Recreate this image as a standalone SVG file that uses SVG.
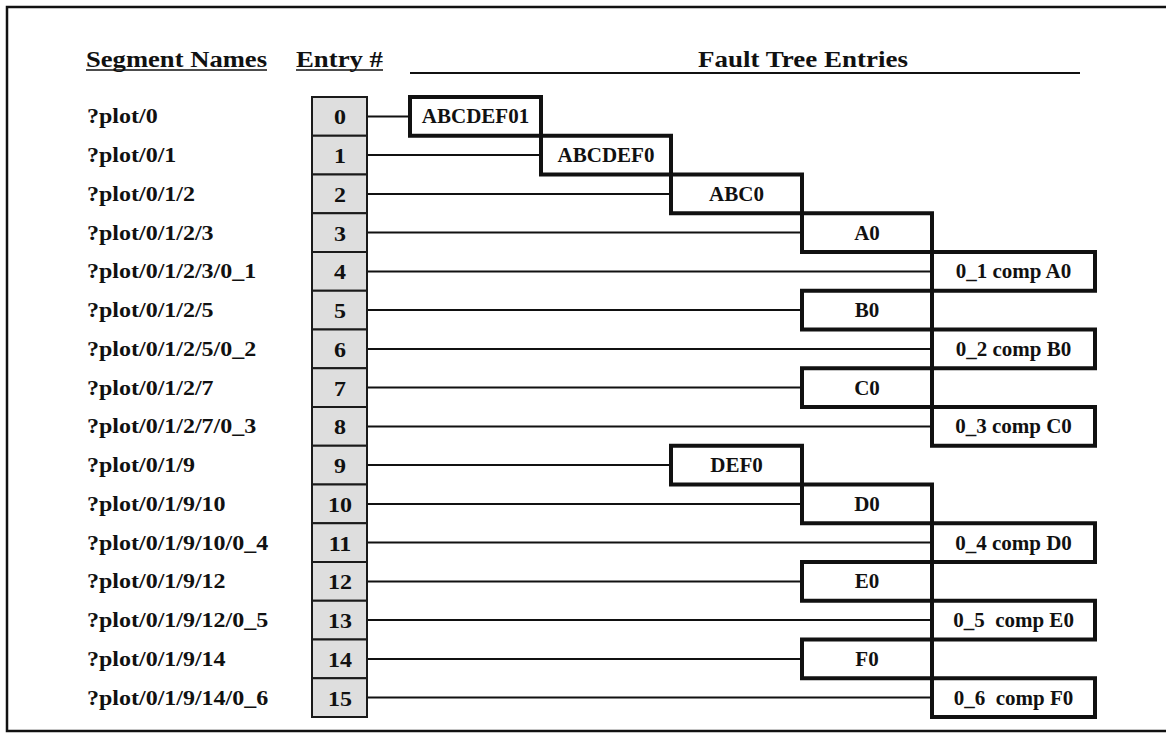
<svg xmlns="http://www.w3.org/2000/svg" width="1166" height="740" viewBox="0 0 1166 740">
  <style>
    .hdr { font-family: "Liberation Serif", "Times New Roman", serif; font-weight: bold; font-size: 23px; fill: #111; }
    .seg { font-family: "Liberation Serif", "Times New Roman", serif; font-weight: bold; font-size: 20px; fill: #111; }
    .num { font-family: "Liberation Serif", "Times New Roman", serif; font-weight: bold; font-size: 20px; fill: #111; text-anchor: middle; }
    .lbl { font-family: "Liberation Serif", "Times New Roman", serif; font-weight: bold; font-size: 21px; fill: #111; text-anchor: middle; white-space: pre; }
    .entry { fill: #dedede; stroke: #1a1a1a; stroke-width: 2; }
    .ft { fill: #ffffff; stroke: #111; stroke-width: 4; }
    .rule { stroke: #111; fill: none; }
    .conn line { stroke: #111; stroke-width: 2; }
  </style>

  <rect width="1166" height="740" fill="#ffffff"/>

  <!-- frame: left, top and bottom edges -->
  <path class="rule" stroke-width="2.5" d="M1166 7 H7 V731 H1166"/>

  <!-- column headings -->
  <g id="headings">
    <text class="hdr" x="86" y="67" textLength="181" lengthAdjust="spacingAndGlyphs">Segment Names</text>
    <line class="rule" stroke-width="1.6" x1="86" y1="70" x2="267" y2="70"/>
    <text class="hdr" x="296" y="67" textLength="87" lengthAdjust="spacingAndGlyphs">Entry #</text>
    <line class="rule" stroke-width="1.6" x1="296" y1="70" x2="383" y2="70"/>
    <text class="hdr" x="698" y="67" font-size="25" textLength="210" lengthAdjust="spacingAndGlyphs">Fault Tree Entries</text>
    <line class="rule" stroke-width="2" x1="410" y1="73" x2="1080" y2="73"/>
  </g>

  <!-- segment names, one per row -->
  <g id="segment-names" transform="translate(87 0) scale(1.2 1)">
    <text class="seg" x="0" y="123.4">?plot/0</text>
    <text class="seg" x="0" y="162.1">?plot/0/1</text>
    <text class="seg" x="0" y="200.9">?plot/0/1/2</text>
    <text class="seg" x="0" y="239.6">?plot/0/1/2/3</text>
    <text class="seg" x="0" y="278.4">?plot/0/1/2/3/0_1</text>
    <text class="seg" x="0" y="317.1">?plot/0/1/2/5</text>
    <text class="seg" x="0" y="355.9">?plot/0/1/2/5/0_2</text>
    <text class="seg" x="0" y="394.6">?plot/0/1/2/7</text>
    <text class="seg" x="0" y="433.4">?plot/0/1/2/7/0_3</text>
    <text class="seg" x="0" y="472.1">?plot/0/1/9</text>
    <text class="seg" x="0" y="510.9">?plot/0/1/9/10</text>
    <text class="seg" x="0" y="549.6">?plot/0/1/9/10/0_4</text>
    <text class="seg" x="0" y="588.4">?plot/0/1/9/12</text>
    <text class="seg" x="0" y="627.1">?plot/0/1/9/12/0_5</text>
    <text class="seg" x="0" y="665.9">?plot/0/1/9/14</text>
    <text class="seg" x="0" y="704.6">?plot/0/1/9/14/0_6</text>
  </g>

  <!-- connectors from each entry cell to its fault tree box -->
  <g id="connectors" class="conn">
    <line x1="367" y1="116.4" x2="410" y2="116.4"/>
    <line x1="367" y1="155.1" x2="541" y2="155.1"/>
    <line x1="367" y1="193.9" x2="671" y2="193.9"/>
    <line x1="367" y1="232.6" x2="802" y2="232.6"/>
    <line x1="367" y1="271.4" x2="932" y2="271.4"/>
    <line x1="367" y1="310.1" x2="802" y2="310.1"/>
    <line x1="367" y1="348.9" x2="932" y2="348.9"/>
    <line x1="367" y1="387.6" x2="802" y2="387.6"/>
    <line x1="367" y1="426.4" x2="932" y2="426.4"/>
    <line x1="367" y1="465.1" x2="671" y2="465.1"/>
    <line x1="367" y1="503.9" x2="802" y2="503.9"/>
    <line x1="367" y1="542.6" x2="932" y2="542.6"/>
    <line x1="367" y1="581.4" x2="802" y2="581.4"/>
    <line x1="367" y1="620.1" x2="932" y2="620.1"/>
    <line x1="367" y1="658.9" x2="802" y2="658.9"/>
    <line x1="367" y1="697.6" x2="932" y2="697.6"/>
  </g>

  <!-- entry number cells -->
  <g id="entry-0"><rect class="entry" x="312" y="97" width="55" height="38.75"/><g transform="translate(340 124.4) scale(1.2 1)"><text class="num">0</text></g></g>
  <g id="entry-1"><rect class="entry" x="312" y="135.75" width="55" height="38.75"/><g transform="translate(340 163.1) scale(1.2 1)"><text class="num">1</text></g></g>
  <g id="entry-2"><rect class="entry" x="312" y="174.5" width="55" height="38.75"/><g transform="translate(340 201.9) scale(1.2 1)"><text class="num">2</text></g></g>
  <g id="entry-3"><rect class="entry" x="312" y="213.25" width="55" height="38.75"/><g transform="translate(340 240.6) scale(1.2 1)"><text class="num">3</text></g></g>
  <g id="entry-4"><rect class="entry" x="312" y="252" width="55" height="38.75"/><g transform="translate(340 279.4) scale(1.2 1)"><text class="num">4</text></g></g>
  <g id="entry-5"><rect class="entry" x="312" y="290.75" width="55" height="38.75"/><g transform="translate(340 318.1) scale(1.2 1)"><text class="num">5</text></g></g>
  <g id="entry-6"><rect class="entry" x="312" y="329.5" width="55" height="38.75"/><g transform="translate(340 356.9) scale(1.2 1)"><text class="num">6</text></g></g>
  <g id="entry-7"><rect class="entry" x="312" y="368.25" width="55" height="38.75"/><g transform="translate(340 395.6) scale(1.2 1)"><text class="num">7</text></g></g>
  <g id="entry-8"><rect class="entry" x="312" y="407" width="55" height="38.75"/><g transform="translate(340 434.4) scale(1.2 1)"><text class="num">8</text></g></g>
  <g id="entry-9"><rect class="entry" x="312" y="445.75" width="55" height="38.75"/><g transform="translate(340 473.1) scale(1.2 1)"><text class="num">9</text></g></g>
  <g id="entry-10"><rect class="entry" x="312" y="484.5" width="55" height="38.75"/><g transform="translate(340 511.9) scale(1.2 1)"><text class="num">10</text></g></g>
  <g id="entry-11"><rect class="entry" x="312" y="523.25" width="55" height="38.75"/><g transform="translate(340 550.6) scale(1.2 1)"><text class="num">11</text></g></g>
  <g id="entry-12"><rect class="entry" x="312" y="562" width="55" height="38.75"/><g transform="translate(340 589.4) scale(1.2 1)"><text class="num">12</text></g></g>
  <g id="entry-13"><rect class="entry" x="312" y="600.75" width="55" height="38.75"/><g transform="translate(340 628.1) scale(1.2 1)"><text class="num">13</text></g></g>
  <g id="entry-14"><rect class="entry" x="312" y="639.5" width="55" height="38.75"/><g transform="translate(340 666.9) scale(1.2 1)"><text class="num">14</text></g></g>
  <g id="entry-15"><rect class="entry" x="312" y="678.25" width="55" height="38.75"/><g transform="translate(340 705.6) scale(1.2 1)"><text class="num">15</text></g></g>

  <!-- fault tree entry boxes, indented by tree level -->
  <g id="ft-ABCDEF01"><rect class="ft" x="410" y="97" width="131" height="38.75"/><text class="lbl" x="475.5" y="123.4">ABCDEF01</text></g>
  <g id="ft-ABCDEF0"><rect class="ft" x="541" y="135.75" width="130" height="38.75"/><text class="lbl" x="606" y="162.1">ABCDEF0</text></g>
  <g id="ft-ABC0"><rect class="ft" x="671" y="174.5" width="131" height="38.75"/><text class="lbl" x="736.5" y="200.9">ABC0</text></g>
  <g id="ft-A0"><rect class="ft" x="802" y="213.25" width="130" height="38.75"/><text class="lbl" x="867" y="239.6">A0</text></g>
  <g id="ft-0_1-comp-A0"><rect class="ft" x="932" y="252" width="163" height="38.75"/><text class="lbl" x="1013.5" y="278.4">0_1 comp A0</text></g>
  <g id="ft-B0"><rect class="ft" x="802" y="290.75" width="130" height="38.75"/><text class="lbl" x="867" y="317.1">B0</text></g>
  <g id="ft-0_2-comp-B0"><rect class="ft" x="932" y="329.5" width="163" height="38.75"/><text class="lbl" x="1013.5" y="355.9">0_2 comp B0</text></g>
  <g id="ft-C0"><rect class="ft" x="802" y="368.25" width="130" height="38.75"/><text class="lbl" x="867" y="394.6">C0</text></g>
  <g id="ft-0_3-comp-C0"><rect class="ft" x="932" y="407" width="163" height="38.75"/><text class="lbl" x="1013.5" y="433.4">0_3 comp C0</text></g>
  <g id="ft-DEF0"><rect class="ft" x="671" y="445.75" width="131" height="38.75"/><text class="lbl" x="736.5" y="472.1">DEF0</text></g>
  <g id="ft-D0"><rect class="ft" x="802" y="484.5" width="130" height="38.75"/><text class="lbl" x="867" y="510.9">D0</text></g>
  <g id="ft-0_4-comp-D0"><rect class="ft" x="932" y="523.25" width="163" height="38.75"/><text class="lbl" x="1013.5" y="549.6">0_4 comp D0</text></g>
  <g id="ft-E0"><rect class="ft" x="802" y="562" width="130" height="38.75"/><text class="lbl" x="867" y="588.4">E0</text></g>
  <g id="ft-0_5-comp-E0"><rect class="ft" x="932" y="600.75" width="163" height="38.75"/><text class="lbl" x="1013.5" y="627.1" xml:space="preserve">0_5  comp E0</text></g>
  <g id="ft-F0"><rect class="ft" x="802" y="639.5" width="130" height="38.75"/><text class="lbl" x="867" y="665.9">F0</text></g>
  <g id="ft-0_6-comp-F0"><rect class="ft" x="932" y="678.25" width="163" height="38.75"/><text class="lbl" x="1013.5" y="704.6" xml:space="preserve">0_6  comp F0</text></g>
</svg>
